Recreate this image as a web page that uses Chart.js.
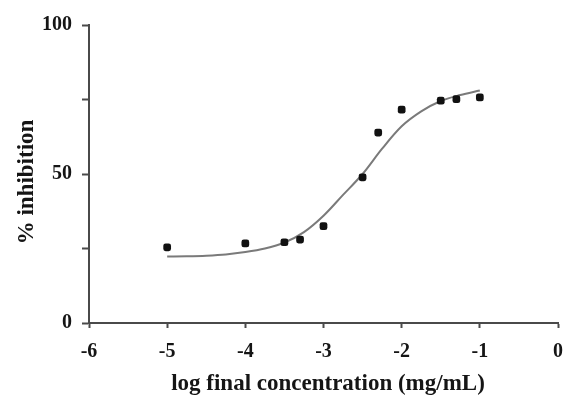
<!DOCTYPE html>
<html>
<head>
<meta charset="utf-8">
<script src="https://cdn.jsdelivr.net/npm/chart.js@4.4.1/dist/chart.umd.min.js"></script>
<style>
  html, body { margin: 0; padding: 0; background: #fff; }
  #wrap { width: 565px; height: 396px; position: relative; }
</style>
</head>
<body>
<div id="wrap"><canvas id="chart" width="565" height="396"></canvas></div>
<script>
// measured points: log final concentration vs % inhibition
const logConc = [-5, -4, -3.5, -3.3, -3, -2.5, -2.3, -2, -1.5, -1.3, -1];
const inhibition = [25.4, 26.7, 27.1, 28.0, 32.5, 48.9, 63.9, 71.6, 74.6, 75.1, 75.7];

// fitted curve
const fitX = [-5, -4.75, -4.5, -4.25, -4, -3.75, -3.5, -3.25, -3, -2.75, -2.5, -2.25, -2, -1.75, -1.5, -1.25, -1];
const fitY = [22.3, 22.4, 22.6, 23.0, 23.8, 25.0, 27.0, 30.5, 36.0, 43.0, 50.0, 58.5, 66.0, 71.0, 74.5, 76.5, 78.0];

const xTicks = [-6, -5, -4, -3, -2, -1, 0];
const yTicks = [0, 25, 50, 75, 100];
const yLabels = ['0', '', '50', '', '100'];

const xTitle = 'log final concentration (mg/mL)';
const yTitle = '% inhibition';

const serif = '"Liberation Serif", "Times New Roman", serif';
const axisColor = '#4a4a4a';
const textColor = '#151515';

// axis titles drawn by hand so they sit where the original has them
const titlePlugin = {
    id: 'titles',
    afterDraw(chart) {
        const ctx = chart.ctx;
        ctx.save();
        ctx.fillStyle = textColor;
        ctx.font = 'bold 23px ' + serif;
        ctx.textAlign = 'center';
        ctx.textBaseline = 'alphabetic';
        ctx.fillText(xTitle, 328, 390);
        ctx.translate(33, 182);
        ctx.rotate(-Math.PI / 2);
        ctx.fillText(yTitle, 0, 0);
        ctx.restore();
    }
};

const ctx = document.getElementById('chart').getContext('2d');
new Chart(ctx, {
    type: 'scatter',
    data: {
        datasets: [{
            type: 'line',
            label: 'fit',
            data: fitX.map(function(x, i) { return {x: x, y: fitY[i]}; }),
            borderColor: '#7a7a7a',
            borderWidth: 2,
            pointRadius: 0,
            fill: false,
            cubicInterpolationMode: 'monotone',
            order: 2
        }, {
            label: 'data',
            data: logConc.map(function(x, i) { return {x: x, y: inhibition[i]}; }),
            backgroundColor: '#111111',
            borderColor: '#111111',
            borderWidth: 0,
            pointStyle: 'rectRounded',
            pointRadius: 4.5,
            order: 1
        }]
    },
    options: {
        responsive: false,
        animation: false,
        layout: { padding: { top: 25, right: 7, left: 0, bottom: 0 } },
        plugins: {
            legend: { display: false },
            tooltip: { enabled: false }
        },
        scales: {
            x: {
                type: 'linear',
                min: -6,
                max: 0,
                afterBuildTicks: function(axis) {
                    axis.ticks = xTicks.map(function(v) { return {value: v}; });
                },
                afterFit: function(axis) {
                    axis.height = 396 - 25 - 298;
                    axis.paddingLeft = 0;
                    axis.paddingRight = 0;
                },
                grid: {
                    drawOnChartArea: false,
                    drawTicks: true,
                    tickLength: 5,
                    tickColor: axisColor,
                    tickWidth: 2
                },
                border: { color: axisColor, width: 2 },
                ticks: {
                    color: textColor,
                    font: { family: serif, size: 20, weight: 'bold' },
                    padding: 12,
                    maxRotation: 0,
                    callback: function(v) { return String(v); }
                }
            },
            y: {
                min: 0,
                max: 100,
                afterBuildTicks: function(axis) {
                    axis.ticks = yTicks.map(function(v) { return {value: v}; });
                },
                afterFit: function(axis) {
                    axis.width = 89;
                    axis.paddingTop = 0;
                    axis.paddingBottom = 0;
                },
                grid: {
                    drawOnChartArea: false,
                    drawTicks: true,
                    tickLength: 7,
                    tickColor: axisColor,
                    tickWidth: 2
                },
                border: { color: axisColor, width: 2 },
                ticks: {
                    color: textColor,
                    font: { family: serif, size: 20, weight: 'bold' },
                    padding: 10,
                    callback: function(v, i) { return yLabels[i]; }
                }
            }
        }
    },
    plugins: [titlePlugin]
});
</script>
</body>
</html>
